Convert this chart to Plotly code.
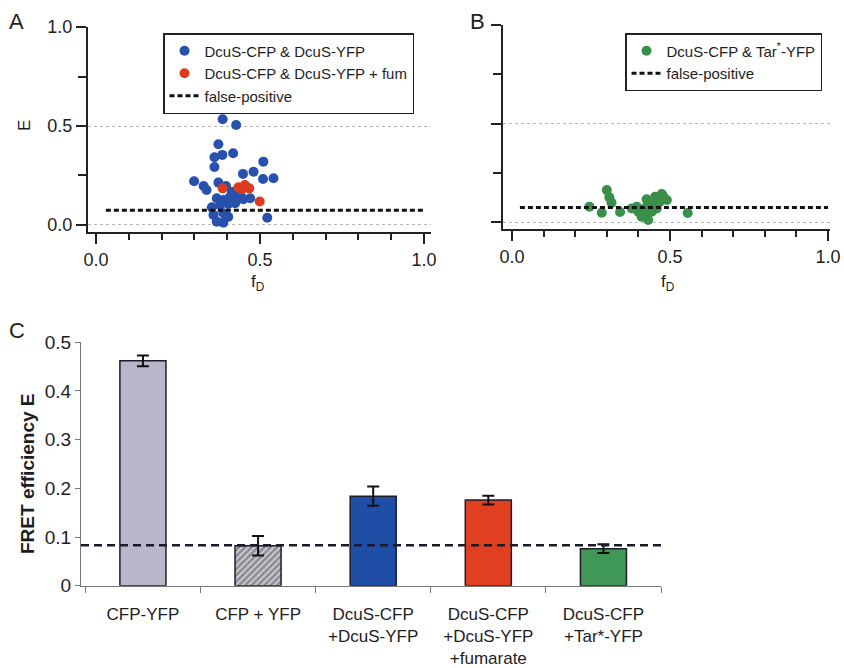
import plotly.graph_objects as go

W, H = 844, 668

# ---------------- Data ----------------
# Panel A: DcuS-CFP & DcuS-YFP (blue)
a_blue_fD = [0.386, 0.427, 0.373, 0.385, 0.361, 0.418, 0.361, 0.510, 0.448, 0.480,
             0.509, 0.541, 0.299, 0.328, 0.337, 0.373, 0.396, 0.368, 0.388, 0.409,
             0.429, 0.449, 0.470, 0.378, 0.403, 0.424, 0.353, 0.358, 0.388, 0.403,
             0.368, 0.388, 0.522, 0.439, 0.414]
a_blue_E = [0.534, 0.505, 0.408, 0.354, 0.342, 0.362, 0.293, 0.320, 0.258, 0.269,
            0.232, 0.236, 0.221, 0.197, 0.177, 0.214, 0.197, 0.135, 0.126, 0.143,
            0.143, 0.130, 0.135, 0.101, 0.106, 0.110, 0.089, 0.051, 0.059, 0.042,
            0.017, 0.012, 0.037, 0.155, 0.168]
# Panel A: + fumarate (red)
a_red_fD = [0.386, 0.434, 0.454, 0.467, 0.444, 0.499]
a_red_E = [0.185, 0.190, 0.202, 0.185, 0.180, 0.119]
# Panel B: DcuS-CFP & Tar*-YFP (green)
b_green_fD = [0.300, 0.308, 0.315, 0.245, 0.284, 0.342, 0.379, 0.400, 0.410, 0.431,
              0.431, 0.453, 0.474, 0.490, 0.468, 0.421, 0.442, 0.421, 0.556, 0.458,
              0.395, 0.442, 0.478, 0.426]
b_green_E = [0.162, 0.125, 0.098, 0.078, 0.047, 0.051, 0.069, 0.052, 0.027, 0.010,
             0.103, 0.128, 0.142, 0.112, 0.103, 0.069, 0.052, 0.044, 0.046, 0.069,
             0.078, 0.095, 0.132, 0.115]
# false-positive levels
fp_A_fD = [0.03, 1.0]
fp_A_E = [0.074, 0.074]
fp_B_fD = [0.025, 1.0]
fp_B_E = [0.073, 0.073]

# Panel C: bar chart
categories = ["CFP-YFP", "CFP + YFP", "DcuS-CFP<br>+DcuS-YFP",
              "DcuS-CFP<br>+DcuS-YFP<br>+fumarate", "DcuS-CFP<br>+Tar*-YFP"]
fret_E = [0.462, 0.082, 0.184, 0.176, 0.076]
fret_err = [0.011, 0.020, 0.020, 0.009, 0.009]
fp_C = 0.083

# ---------------- Style ----------------
BLUE = "#2850ad"
RED = "#dc3c1e"
GREEN = "#3a8f4a"
BAR_COLORS = ["#bab6c9", "#c9c7cf", "#1f4ea6", "#e0401f", "#3f9858"]
TXT = "#1e1e1e"
FONT = "Liberation Sans, Arial, sans-serif"


def px_x(p):
    return p / W


def px_y(p):
    return 1 - p / H


fig = go.Figure()

# Panel A traces
fig.add_trace(go.Scatter(x=a_blue_fD, y=a_blue_E, mode="markers", name="DcuS-CFP & DcuS-YFP",
                         marker=dict(color=BLUE, size=10, line=dict(width=0)),
                         xaxis="x", yaxis="y", legend="legend"))
fig.add_trace(go.Scatter(x=a_red_fD, y=a_red_E, mode="markers", name="DcuS-CFP & DcuS-YFP + fum",
                         marker=dict(color=RED, size=10, line=dict(width=0)),
                         xaxis="x", yaxis="y", legend="legend"))
fig.add_trace(go.Scatter(x=fp_A_fD, y=fp_A_E, mode="lines", name="false-positive",
                         line=dict(color="#111", width=3, dash="5px,3px"),
                         xaxis="x", yaxis="y", legend="legend"))

# Panel B traces
fig.add_trace(go.Scatter(x=b_green_fD, y=b_green_E, mode="markers",
                         name="DcuS-CFP & Tar<sup>*</sup>-YFP",
                         marker=dict(color=GREEN, size=10, line=dict(width=0)),
                         xaxis="x2", yaxis="y2", legend="legend2"))
fig.add_trace(go.Scatter(x=fp_B_fD, y=fp_B_E, mode="lines", name="false-positive",
                         line=dict(color="#111", width=3, dash="5px,3px"),
                         xaxis="x2", yaxis="y2", legend="legend2"))

# Panel C bars
fig.add_trace(go.Bar(x=categories, y=fret_E, width=0.40,
                     marker=dict(color=BAR_COLORS, line=dict(color="#1c1c2c", width=1.5),
                                 pattern=dict(shape=["", "/", "", "", ""], fgcolor="#2e2e2e",
                                              size=4.5, solidity=0.5, fillmode="overlay")),
                     error_y=dict(type="data", array=fret_err, color="#111", thickness=2, width=6),
                     showlegend=False, xaxis="x3", yaxis="y3"))

common_tick_font = dict(family=FONT, size=18, color=TXT)

fig.update_layout(
    width=W, height=H, autosize=False,
    margin=dict(l=0, r=0, t=0, b=0),
    paper_bgcolor="white", plot_bgcolor="white",
    font=dict(family=FONT, color=TXT),
    # Panel A axes
    xaxis=dict(domain=[px_x(88), px_x(431)], range=[-0.0244, 1.021], anchor="y",
               showline=True, linecolor="#222", linewidth=2, showgrid=False, zeroline=False,
               ticks="outside", ticklen=10, tickwidth=2, tickcolor="#222",
               tickvals=[0, 0.5, 1.0], ticktext=["0.0", "0.5", "1.0"], tickfont=common_tick_font,
               minor=dict(dtick=0.1, tick0=0, ticks="outside", ticklen=6, tickwidth=2,
                          tickcolor="#222", showgrid=False),
               automargin=False),
    yaxis=dict(domain=[px_y(232), px_y(27)], range=[-0.0354, 1.0], anchor="x",
               showline=True, linecolor="#222", linewidth=2, zeroline=False,
               showgrid=True, gridcolor="#b5b5b5", gridwidth=1, griddash="dot",
               ticks="outside", ticklen=10, tickwidth=2, tickcolor="#222",
               tickvals=[0, 0.5, 1.0], ticktext=["0.0", "0.5", "1.0"], tickfont=common_tick_font,
               minor=dict(dtick=0.25, tick0=0, ticks="outside", ticklen=8, tickwidth=2,
                          tickcolor="#222", showgrid=False),
               automargin=False),
    # Panel B axes
    xaxis2=dict(domain=[px_x(503), px_x(830)], range=[-0.0285, 1.0063], anchor="y2",
                showline=True, linecolor="#222", linewidth=2, showgrid=False, zeroline=False,
                ticks="outside", ticklen=10, tickwidth=2, tickcolor="#222",
                tickvals=[0, 0.5, 1.0], ticktext=["0.0", "0.5", "1.0"], tickfont=common_tick_font,
                minor=dict(dtick=0.1, tick0=0, ticks="outside", ticklen=6, tickwidth=2,
                           tickcolor="#222", showgrid=False),
                automargin=False),
    yaxis2=dict(domain=[px_y(229), px_y(25)], range=[-0.0355, 1.0], anchor="x2",
                showline=True, linecolor="#222", linewidth=2, zeroline=False,
                showgrid=True, gridcolor="#b5b5b5", gridwidth=1, griddash="dot",
                ticks="outside", ticklen=10, tickwidth=2, tickcolor="#222",
                tickvals=[0, 0.5, 1.0], showticklabels=False,
                minor=dict(dtick=0.25, tick0=0, ticks="outside", ticklen=8, tickwidth=2,
                           tickcolor="#222", showgrid=False),
                automargin=False),
    # Panel C axes
    xaxis3=dict(domain=[px_x(81), px_x(661)], range=[-0.538, 4.5], anchor="y3",
                type="category", showline=True, linecolor="#777", linewidth=1.2,
                showgrid=False, zeroline=False, tickson="boundaries",
                ticks="outside", ticklen=6, tickwidth=1.2, tickcolor="#777",
                ticklabelstandoff=13,
                tickfont=dict(family=FONT, size=17, color=TXT), automargin=False),
    yaxis3=dict(domain=[px_y(585.7), px_y(342.3)], range=[0, 0.5], anchor="x3",
                showline=True, linecolor="#777", linewidth=1.2, showgrid=False, zeroline=False,
                ticks="outside", ticklen=5, tickwidth=1.2, tickcolor="#777",
                tickvals=[0, 0.1, 0.2, 0.3, 0.4, 0.5], ticktext=["0", "0.1", "0.2", "0.3", "0.4", "0.5"],
                tickfont=dict(family=FONT, size=19, color=TXT), automargin=False),
    legend=dict(x=px_x(163), y=px_y(33), xanchor="left", yanchor="top",
                bordercolor="#222", borderwidth=1.5, bgcolor="white",
                font=dict(family=FONT, size=15, color=TXT), tracegroupgap=0,
                itemwidth=30),
    legend2=dict(x=px_x(625), y=px_y(33), xanchor="left", yanchor="top",
                 bordercolor="#222", borderwidth=1.5, bgcolor="white",
                 font=dict(family=FONT, size=15, color=TXT), tracegroupgap=0,
                 itemwidth=30),
    bargap=0.6,
)

# false-positive line in panel C
fig.add_shape(type="line", xref="x3 domain", yref="y3", x0=0, x1=1, y0=fp_C, y1=fp_C,
              line=dict(color="#1a1a2a", width=2.5, dash="8px,5px"))

annots = [
    dict(text="A", x=px_x(16), y=px_y(22), font=dict(size=22)),
    dict(text="B", x=px_x(477), y=px_y(22), font=dict(size=22)),
    dict(text="C", x=px_x(17), y=px_y(330), font=dict(size=22)),
    dict(text="E", x=px_x(25), y=px_y(126), font=dict(size=17), textangle=-90),
    dict(text="f<sub>D</sub>", x=px_x(258), y=px_y(283), font=dict(size=17)),
    dict(text="f<sub>D</sub>", x=px_x(668), y=px_y(283), font=dict(size=17)),
    dict(text="<b>FRET efficiency E</b>", x=px_x(27), y=px_y(474), font=dict(size=19),
         textangle=-90),
]
for a in annots:
    fig.add_annotation(xref="paper", yref="paper", showarrow=False,
                       xanchor="center", yanchor="middle", **a)

# remove the default 8px page margin so the 844x668 figure fills the window exactly
fig.write_html("out.html", config={"displayModeBar": False},
               post_script="document.body.style.margin='0px';")
